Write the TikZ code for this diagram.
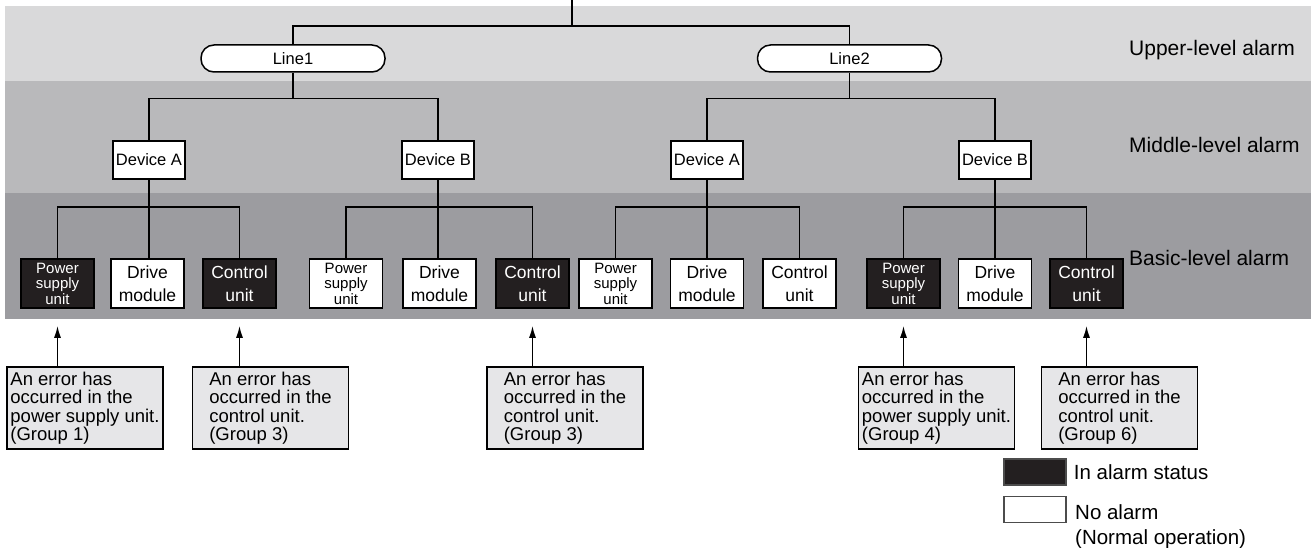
\documentclass[tikz,border=0pt]{standalone}
\usepackage{fontspec}
\setmainfont{Liberation Sans}
\usepackage{tikz}
\usetikzlibrary{positioning,arrows.meta}
\definecolor{bandupper}{HTML}{D9D9DA}
\definecolor{bandmiddle}{HTML}{B9B9BB}
\definecolor{bandbasic}{HTML}{9C9CA0}
\definecolor{notegray}{HTML}{E6E6E8}
\definecolor{alarmblack}{HTML}{231F20}
\tikzset{
pill/.style={draw=black,line width=1.5pt,rounded corners=13pt,fill=white,minimum width=184pt,minimum height=27pt,inner sep=0pt,font=\fontsize{16.5}{18}\selectfont},
devbox/.style={draw=black,line width=1.5pt,fill=white,minimum width=72pt,minimum height=38pt,inner sep=0pt,font=\fontsize{16.5}{18}\selectfont},
unitok/.style={draw=black,line width=1.6pt,fill=white,minimum width=73pt,minimum height=49pt,inner sep=0pt,align=center,font=\fontsize{17.5}{23}\selectfont},
unitalarm/.style={unitok,fill=alarmblack,text=white},
psu/.style={font=\fontsize{15}{15.5}\selectfont},
note/.style={draw=black,line width=1.5pt,fill=notegray,minimum width=156pt,minimum height=82pt,inner sep=0pt,align=left,font=\fontsize{18.5}{18.5}\selectfont},
wire/.style={line width=1.5pt},
pointer/.style={-{Latex[length=12pt,width=7pt]},line width=1.5pt},
levellabel/.style={anchor=west,inner sep=0pt,font=\fontsize{21}{24}\selectfont},
legbox/.style={draw=black!70,line width=1.4pt,minimum width=62pt,minimum height=26pt,inner sep=0pt},
legtext/.style={inner sep=0pt,align=left,font=\fontsize{20.5}{25}\selectfont}
}
\begin{document}
\begin{tikzpicture}[x=1pt,y=-1pt]
\useasboundingbox (0,0) rectangle (1311,548);
% alarm level bands
\fill[bandupper] (5,6) rectangle (1311,81);
\fill[bandmiddle] (5,81) rectangle (1311,193);
\fill[bandbasic] (5,193) rectangle (1311,319);
\node[levellabel] (lupper) at (1129,50) {Upper-level alarm};
\node[levellabel] (lmiddle) at (1129,145) {Middle-level alarm};
\node[levellabel] (lbasic) at (1129,258) {Basic-level alarm};

% upper level
\coordinate (root) at (572,0);
\coordinate (rootj) at (572,26);
\node[pill] (line1) at (293,58.5) {Line1};
\node[pill] (line2) at (849.5,58.5) {Line2};
\draw[wire] (root) -- (rootj);
\draw[wire] (line1.north) -- (line1.north |- rootj) -- (line2.north |- rootj) -- (line2.north);

% middle level
\node[devbox] (devA1) at (149,160) {Device A};
\node[devbox] (devB1) at (438,160) {Device B};
\node[devbox] (devA2) at (707,160) {Device A};
\node[devbox] (devB2) at (995,160) {Device B};
\draw[wire] (line1.south) -- ++(0,26) coordinate (j1);
\draw[wire] (devA1.north) |- (j1) -| (devB1.north);
\draw[wire] (line2.south) -- ++(0,26) coordinate (j2);
\draw[wire] (devA2.north) |- (j2) -| (devB2.north);

% basic level
\node[unitalarm,psu] (psu1) at (57.5,283.5) {Power\\supply\\unit};
\node[unitok] (drv1) at (147.5,283.5) {Drive\\module};
\node[unitalarm] (ctl1) at (239.5,283.5) {Control\\unit};
\node[unitok,psu] (psu2) at (346,283.5) {Power\\supply\\unit};
\node[unitok] (drv2) at (439.5,283.5) {Drive\\module};
\node[unitalarm] (ctl2) at (532.5,283.5) {Control\\unit};
\node[unitok,psu] (psu3) at (615.5,283.5) {Power\\supply\\unit};
\node[unitok] (drv3) at (707,283.5) {Drive\\module};
\node[unitok] (ctl3) at (799.5,283.5) {Control\\unit};
\node[unitalarm,psu] (psu4) at (903.5,283.5) {Power\\supply\\unit};
\node[unitok] (drv4) at (995,283.5) {Drive\\module};
\node[unitalarm] (ctl4) at (1086.5,283.5) {Control\\unit};
\draw[wire] (devA1.south) -- (drv1.north -| devA1.south);
\draw[wire] (psu1.north) -- ++(0,-51) -| (ctl1.north);
\draw[wire] (devB1.south) -- (drv2.north -| devB1.south);
\draw[wire] (psu2.north) -- ++(0,-51) -| (ctl2.north);
\draw[wire] (devA2.south) -- (drv3.north);
\draw[wire] (psu3.north) -- ++(0,-51) -| (ctl3.north);
\draw[wire] (devB2.south) -- (drv4.north);
\draw[wire] (psu4.north) -- ++(0,-51) -| (ctl4.north);

% error notes
\node[note] (note1) at (85,408) {An error has\\occurred in the\\power supply unit.\\(Group 1)};
\node[note] (note2) at (270.5,408) {An error has\\occurred in the\\control unit.\\(Group 3)};
\node[note] (note3) at (565,408) {An error has\\occurred in the\\control unit.\\(Group 3)};
\node[note] (note4) at (936.5,408) {An error has\\occurred in the\\power supply unit.\\(Group 4)};
\node[note] (note5) at (1119.5,408) {An error has\\occurred in the\\control unit.\\(Group 6)};
\draw[pointer,shorten >=17pt] (note1.north -| psu1.south) -- (psu1.south);
\draw[pointer,shorten >=17pt] (note2.north -| ctl1.south) -- (ctl1.south);
\draw[pointer,shorten >=17pt] (note3.north -| ctl2.south) -- (ctl2.south);
\draw[pointer,shorten >=17pt] (note4.north -| psu4.south) -- (psu4.south);
\draw[pointer,shorten >=17pt] (note5.north -| ctl4.south) -- (ctl4.south);

% legend
\node[legbox,fill=alarmblack] (legon) at (1035,472) {};
\node[legbox,fill=white] (legoff) at (1035,509.5) {};
\node[legtext,right=7pt of legon] (legontxt) {In alarm status};
\node[legtext,anchor=north west] (legofftxt) at (1075,504) {No alarm\\(Normal operation)};
\end{tikzpicture}
\end{document}
